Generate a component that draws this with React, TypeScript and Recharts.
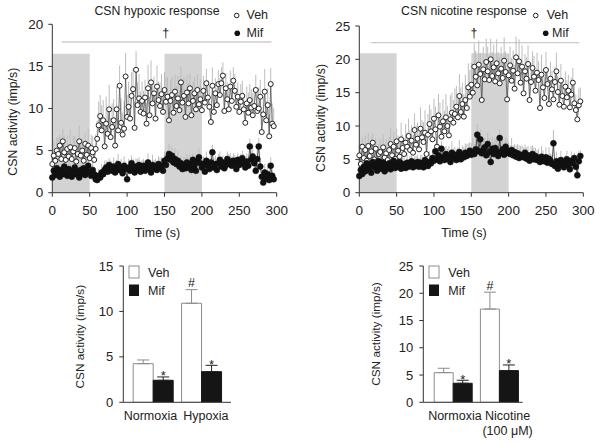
import React from 'react';
import {
  ComposedChart,
  Line,
  XAxis,
  YAxis,
  ErrorBar,
  ReferenceArea,
  ReferenceLine,
  BarChart,
  Bar,
  LabelList,
} from 'recharts';

// sampling interval of the traces (s)
const TIME_STEP = 2;
const timeTicks = [0, 50, 100, 150, 200, 250, 300];

// --- hypoxia traces ---
const hypVeh = [
  3.4, 4.4, 3.8, 5.0, 4.6, 5.6, 4.0, 6.1, 4.8, 3.9,
  5.2, 4.3, 5.4, 4.0, 4.9, 5.3, 3.7, 4.6, 6.1, 4.4,
  5.0, 3.8, 5.8, 4.5, 5.6, 4.1, 5.3, 4.8, 3.9, 5.2,
  6.4, 8.0, 9.1, 7.4, 8.6, 5.5, 8.2, 7.0, 9.9, 6.6,
  7.8, 8.6, 5.6, 9.9, 7.4, 12.7, 8.3, 6.9, 7.6, 13.8,
  9.0, 10.2, 8.8, 11.5, 12.3, 7.7, 14.6, 10.4, 11.2, 9.6,
  10.9, 9.4, 11.3, 8.2, 12.4, 9.2, 13.1, 10.6, 11.8, 8.8,
  12.6, 11.0, 10.3, 11.7, 9.6, 12.2, 10.8, 11.4, 8.6, 10.9,
  11.6, 9.5, 12.0, 10.3, 11.2, 9.8, 13.1, 10.7, 11.5, 9.0,
  11.9, 10.6, 12.4, 9.2, 10.9, 11.8, 9.9, 12.2, 10.5, 11.1,
  9.8, 12.1, 10.7, 13.0, 11.3, 10.2, 8.4, 12.7, 9.6, 11.8,
  10.4, 12.9, 11.6, 13.0, 13.9, 9.7, 12.4, 11.1, 9.9, 12.6,
  10.9, 13.3, 12.1, 10.2, 11.4, 9.6, 10.8, 11.5, 9.9, 8.3,
  10.6, 9.5, 11.0, 10.1, 9.2, 10.3, 12.2, 9.7, 10.0, 11.4,
  7.2, 9.3, 12.0, 8.6, 10.4, 6.7, 12.9, 8.2, 7.9,
];
const hypVehErr = [
  1.4, 1.8, 1.2, 1.6, 2.0, 1.3, 1.7, 1.5, 1.9, 1.2,
  1.6, 1.4, 2.1, 1.3, 1.8, 1.5, 1.7, 1.2, 1.9, 1.6,
  1.5, 1.8, 1.3, 1.7, 2.0, 1.4, 1.6, 1.9, 1.3, 1.7,
  2.2, 2.8, 2.5, 3.0, 2.4, 2.7, 3.2, 2.6, 2.9, 2.3,
  2.8, 2.5, 3.1, 2.7, 3.0, 2.4, 2.9, 2.6, 3.3, 2.8,
  2.6, 3.0, 2.4, 2.8, 2.5, 3.1, 2.2, 2.7, 2.9, 2.4,
  2.3, 2.7, 2.1, 2.5, 2.8, 2.2, 2.6, 2.4, 2.0, 2.7,
  2.5, 2.2, 2.8, 2.4, 2.6, 2.1, 2.9, 2.3, 2.7, 2.5,
  2.2, 2.6, 2.0, 2.4, 2.7, 2.3, 1.9, 2.5, 2.2, 2.6,
  2.1, 2.4, 1.8, 2.6, 2.3, 2.0, 2.5, 1.9, 2.2, 2.4,
  2.0, 1.8, 2.3, 1.7, 2.1, 2.4, 1.9, 2.2, 2.0, 1.8,
  2.1, 1.7, 2.0, 1.9, 1.6, 2.2, 1.8, 2.0, 2.3, 1.9,
  1.8, 1.6, 2.0, 2.2, 1.7, 1.9, 2.1, 1.8, 2.0, 2.3,
  2.0, 2.4, 1.9, 2.2, 2.6, 2.1, 1.8, 2.3, 2.5, 2.0,
  2.4, 2.1, 2.7, 2.3, 2.0, 2.6, 1.9, 2.4, 2.2,
];
const hypMif = [
  1.8, 2.6, 2.1, 2.9, 2.3, 1.9, 2.7, 2.2, 3.1, 2.4,
  2.0, 2.8, 2.3, 1.9, 2.6, 3.0, 2.2, 2.5, 1.8, 2.7,
  2.3, 2.9, 2.1, 2.6, 3.2, 2.4, 2.0, 2.7, 2.2, 1.6,
  1.5, 2.0, 1.8, 2.4, 2.2, 2.7, 3.0, 2.5, 3.3, 2.8,
  2.6, 3.1, 2.4, 2.9, 3.4, 2.7, 3.0, 2.3, 3.2, 2.8,
  1.6, 3.0, 2.6, 3.5, 2.9, 2.4, 3.1, 2.7, 3.3, 2.5,
  2.9, 3.2, 2.6, 3.0, 3.6, 2.8, 2.4, 3.3, 2.9, 3.1,
  2.7, 3.4, 3.0, 3.2, 2.6, 3.8, 3.3, 4.1, 4.6, 3.9,
  4.4, 3.6, 4.0, 3.4, 3.8, 3.1, 3.5, 2.8, 3.3, 2.9,
  3.6, 3.0, 3.4, 2.7, 3.9, 3.2, 2.6, 3.7, 4.2, 3.5,
  3.0, 3.4, 2.5, 3.8, 3.2, 2.8, 3.6, 4.8, 3.0, 3.4,
  2.7, 3.5, 3.9, 3.1, 3.6, 2.9, 3.3, 4.0, 3.4, 3.7,
  3.2, 3.8, 3.5, 2.8, 3.9, 3.3, 3.6, 4.1, 3.4, 3.0,
  3.7, 3.2, 5.5, 3.9, 4.3, 3.5, 2.6, 4.0, 5.5, 3.1,
  1.9, 1.2, 2.4, 1.7, 2.2, 1.5, 3.2, 2.0, 1.6,
];
const hypMifErr = [
  0.8, 1.0, 0.7, 0.9, 1.1, 0.8, 0.6, 1.0, 0.9, 0.7,
  0.9, 0.7, 1.1, 0.8, 1.0, 0.6, 0.9, 0.8, 1.2, 0.7,
  1.0, 0.8, 0.9, 0.7, 1.1, 0.9, 0.8, 1.0, 0.7, 0.6,
  0.7, 0.8, 0.9, 1.0, 0.8, 1.1, 0.9, 1.2, 0.8, 1.0,
  0.9, 1.1, 0.8, 1.0, 1.2, 0.9, 1.0, 0.8, 1.1, 0.9,
  0.7, 1.0, 1.2, 0.9, 1.1, 0.8, 1.0, 1.3, 0.9, 1.1,
  1.0, 0.8, 1.2, 0.9, 1.1, 1.0, 0.8, 1.2, 1.0, 0.9,
  1.1, 0.9, 1.2, 1.0, 0.8, 1.1, 1.3, 1.0, 1.2, 0.9,
  1.1, 1.0, 1.3, 0.9, 1.2, 1.0, 0.8, 1.1, 0.9, 1.2,
  1.0, 0.9, 1.1, 1.3, 0.8, 1.0, 1.2, 0.9, 1.1, 1.0,
  1.2, 0.9, 1.0, 1.1, 0.8, 1.2, 1.0, 0.9, 1.1, 1.0,
  0.9, 1.1, 1.0, 1.2, 0.8, 1.0, 1.1, 0.9, 1.2, 1.0,
  1.1, 0.9, 1.0, 1.2, 0.8, 1.1, 1.0, 0.9, 1.2, 1.0,
  1.0, 1.2, 0.9, 1.1, 1.3, 1.0, 0.8, 1.2, 1.0, 0.9,
  0.9, 0.7, 1.0, 0.8, 0.9, 0.7, 1.0, 0.8, 0.7,
];

// --- nicotine traces ---
const nicVeh = [
  5.6, 4.3, 6.9, 5.2, 6.4, 4.8, 7.0, 5.5, 6.2, 7.5,
  5.0, 6.6, 4.7, 5.8, 6.1, 4.5, 6.8, 5.3, 5.9, 4.9,
  6.4, 7.3, 5.6, 6.9, 5.1, 7.7, 6.3, 5.4, 8.0, 6.7,
  5.8, 7.5, 6.9, 8.5, 6.4, 7.8, 6.0, 9.4, 7.2, 8.1,
  6.5, 9.6, 8.3, 7.6, 9.0, 5.8, 8.7, 10.3, 9.2, 8.0,
  11.1, 9.5, 6.9, 11.6, 9.9, 8.4, 10.7, 9.2, 11.3, 10.0,
  8.6, 11.0, 12.0, 10.5, 11.8, 12.9, 11.3, 14.5, 12.1, 13.3,
  11.4, 13.9, 12.7, 15.8, 14.4, 16.2, 15.0, 18.9, 17.4, 16.1,
  19.2, 17.8, 13.9, 18.5, 17.0, 19.6, 18.2, 16.9, 20.0, 17.5,
  18.8, 16.7, 19.4, 17.9, 16.4, 18.6, 17.2, 19.8, 18.1, 14.0,
  17.6, 19.1, 16.8, 18.3, 15.6, 20.3, 17.9, 19.7, 16.5, 18.9,
  14.9, 18.2, 17.1, 19.3, 13.9, 16.6, 18.7, 17.4, 15.3, 18.0,
  16.9, 12.7, 17.7, 15.8, 14.2, 18.4, 16.3, 13.3, 17.1, 15.5,
  14.0, 16.6, 18.2, 15.1, 13.2, 16.8, 14.5, 12.9, 15.9, 14.3,
  15.3, 12.8, 14.7, 16.5, 13.4, 12.4, 11.0, 13.1, 13.7,
];
const nicVehErr = [
  1.6, 2.0, 1.4, 1.8, 2.2, 1.5, 1.9, 1.7, 2.1, 1.4,
  1.8, 1.6, 2.3, 1.5, 2.0, 1.7, 1.9, 1.4, 2.1, 1.8,
  2.0, 2.4, 1.8, 2.2, 2.6, 1.9, 2.3, 2.1, 2.5, 2.0,
  2.4, 2.8, 2.2, 2.6, 3.0, 2.3, 2.7, 2.5, 2.9, 2.4,
  2.8, 3.2, 2.6, 3.0, 3.4, 2.7, 3.1, 2.9, 3.3, 2.8,
  3.0, 3.4, 2.8, 3.2, 3.6, 2.9, 3.3, 3.1, 3.5, 3.0,
  3.2, 3.6, 3.0, 3.4, 3.8, 3.1, 3.5, 3.3, 3.7, 3.2,
  3.4, 3.8, 3.2, 3.6, 4.0, 3.3, 3.7, 3.5, 3.9, 3.4,
  3.6, 3.2, 3.8, 3.4, 3.0, 3.5, 3.7, 3.3, 3.1, 3.6,
  3.4, 3.0, 3.6, 3.2, 3.8, 3.3, 2.9, 3.5, 3.1, 3.4,
  3.2, 2.8, 3.4, 3.0, 3.6, 3.1, 2.7, 3.3, 2.9, 3.2,
  3.0, 2.6, 3.2, 2.8, 3.4, 2.9, 2.5, 3.1, 2.7, 3.0,
  2.8, 2.4, 3.0, 2.6, 3.2, 2.7, 2.3, 2.9, 2.5, 2.8,
  2.6, 2.2, 2.8, 2.4, 3.0, 2.5, 2.1, 2.7, 2.3, 2.6,
  2.4, 2.0, 2.6, 2.2, 2.8, 2.3, 1.9, 2.5, 2.1,
];
const nicMif = [
  2.5, 3.4, 2.8, 3.9, 3.2, 4.4, 3.5, 4.1, 3.0, 4.6,
  3.8, 4.3, 3.3, 4.7, 3.9, 3.6, 4.5, 3.2, 4.1, 3.7,
  4.4, 3.5, 4.0, 4.8, 3.7, 4.2, 3.9, 4.6, 3.6, 4.3,
  4.1, 3.7, 4.5, 3.9, 4.2, 4.7, 3.8, 4.4, 4.0, 4.6,
  3.9, 4.5, 4.2, 3.8, 4.9, 4.3, 4.0, 4.6, 4.4, 5.2,
  4.8, 6.2, 5.0, 5.6, 4.7, 6.6, 5.3, 4.9, 5.8, 5.1,
  5.5, 4.6, 6.0, 5.2, 5.7, 4.9, 5.4, 6.1, 5.0, 5.6,
  5.3, 6.0, 5.5, 5.9, 6.3, 5.7, 6.1, 5.8, 6.5, 8.7,
  6.2, 8.0, 5.9, 6.4, 6.8, 5.6, 7.3, 6.1, 4.6, 6.6,
  5.8, 6.7, 6.2, 5.5, 8.2, 6.0, 6.5, 5.7, 6.9, 6.3,
  6.0, 5.8, 6.4, 5.6, 6.1, 5.4, 5.9, 5.2, 5.7, 5.5,
  5.3, 6.0, 5.1, 5.6, 4.8, 5.4, 5.8, 5.0, 5.5, 4.9,
  5.2, 4.6, 5.4, 5.0, 4.7, 5.3, 4.5, 5.1, 4.8, 4.3,
  7.4, 4.0, 4.7, 3.6, 4.4, 4.9, 4.1, 3.8, 4.6, 5.0,
  4.2, 3.5, 4.8, 4.4, 5.2, 3.9, 2.6, 4.7, 5.5,
];
const nicMifErr = [
  0.9, 1.2, 0.8, 1.1, 1.4, 1.0, 1.3, 0.9, 1.2, 1.0,
  1.1, 0.9, 1.3, 1.0, 1.2, 0.8, 1.1, 1.4, 1.0, 1.2,
  1.0, 1.3, 1.1, 0.9, 1.2, 1.4, 1.0, 1.1, 1.3, 0.9,
  1.2, 1.0, 1.4, 1.1, 1.3, 0.9, 1.2, 1.0, 1.5, 1.1,
  1.3, 1.1, 1.5, 1.2, 1.0, 1.4, 1.2, 1.6, 1.1, 1.3,
  1.4, 1.2, 1.6, 1.3, 1.5, 1.1, 1.4, 1.7, 1.2, 1.5,
  1.5, 1.3, 1.7, 1.4, 1.2, 1.6, 1.4, 1.8, 1.3, 1.5,
  1.6, 1.4, 1.8, 1.5, 1.3, 1.7, 2.2, 1.5, 1.9, 1.6,
  1.8, 1.5, 2.0, 1.6, 1.4, 1.9, 1.7, 2.1, 1.5, 1.8,
  1.7, 1.4, 1.9, 1.6, 1.3, 1.8, 1.5, 2.0, 1.4, 1.7,
  1.6, 1.3, 1.8, 1.5, 1.2, 1.7, 1.4, 1.9, 1.3, 1.6,
  1.5, 1.2, 1.7, 1.4, 1.1, 1.6, 1.3, 1.8, 1.2, 1.5,
  1.4, 1.1, 1.6, 1.3, 1.0, 1.5, 1.2, 1.7, 1.1, 1.4,
  2.0, 1.1, 1.5, 1.2, 0.9, 1.4, 1.1, 1.6, 1.0, 1.3,
  1.2, 1.0, 1.4, 1.1, 0.8, 1.3, 1.0, 1.5, 0.9,
];

// --- summary bars ---
const hypCategories = ['Normoxia', 'Hypoxia'];
const hypVehMean = [4.25, 10.9];
const hypVehSem = [0.41, 1.5];
const hypMifMean = [2.42, 3.37];
const hypMifSem = [0.37, 0.7];
const hypVehSig = ['', '#'];
const hypMifSig = ['*', '*'];

const nicCategories = ['Normoxia', 'Nicotine\n(100 \u03bcM)'];
const nicVehMean = [5.44, 17.1];
const nicVehSem = [0.8, 3.1];
const nicMifMean = [3.49, 5.81];
const nicMifSem = [0.55, 1.04];
const nicVehSig = ['', '#'];
const nicMifSig = ['*', '*'];

const FONT = '"Liberation Sans", Arial, Helvetica, sans-serif';
const AXIS = '#333';
const INK = '#222';

const buildTrace = (veh: number[], vehErr: number[], mif: number[], mifErr: number[]) =>
  veh.map((v, i) => ({
    t: i * TIME_STEP,
    veh: v,
    vehErr: [0, vehErr[i]],
    mif: mif[i],
    mifErr: [0, mifErr[i]],
  }));

const buildBars = (cats: string[], vm: number[], ve: number[], mm: number[], me: number[], vs: string[], ms: string[]) =>
  cats.map((name, i) => ({
    name,
    veh: vm[i],
    vehErr: [0, ve[i]],
    mif: mm[i],
    mifErr: [0, me[i]],
    vehSig: vs[i],
    mifSig: ms[i],
  }));

const hypTrace = buildTrace(hypVeh, hypVehErr, hypMif, hypMifErr);
const nicTrace = buildTrace(nicVeh, nicVehErr, nicMif, nicMifErr);
const hypBars = buildBars(hypCategories, hypVehMean, hypVehSem, hypMifMean, hypMifSem, hypVehSig, hypMifSig);
const nicBars = buildBars(nicCategories, nicVehMean, nicVehSem, nicMifMean, nicMifSem, nicVehSig, nicMifSig);

type TraceProps = {
  data: any[];
  width: number;
  yMax: number;
  yTicks: number[];
  shadeTop: number;
  lineY: number;
  lineFrom: number;
  lineTo: number;
  margin: { top: number; right: number; bottom: number; left: number };
  yWidth: number;
};

const TracePanel = ({ data, width, yMax, yTicks, shadeTop, lineY, lineFrom, lineTo, margin, yWidth }: TraceProps) => (
  <ComposedChart width={width} height={240} data={data} margin={margin}>
    <ReferenceArea x1={0} x2={50} y1={0} y2={shadeTop} fill="#d3d3d3" fillOpacity={1} stroke="none" />
    <ReferenceArea x1={150} x2={200} y1={0} y2={shadeTop} fill="#d3d3d3" fillOpacity={1} stroke="none" />
    <ReferenceLine
      segment={[{ x: lineFrom, y: lineY }, { x: lineTo, y: lineY }]}
      stroke="#cccccc"
      strokeWidth={1.3}
    />
    <XAxis
      type="number"
      dataKey="t"
      domain={[0, 300]}
      ticks={timeTicks}
      stroke={AXIS}
      tickSize={4}
      tickMargin={9}
      height={30}
      tick={{ fontSize: 13.5, fill: INK }}
    />
    <YAxis
      type="number"
      domain={[0, yMax]}
      ticks={yTicks}
      allowDataOverflow
      stroke={AXIS}
      tickSize={4}
      tickMargin={5}
      width={yWidth}
      tick={{ fontSize: 13.5, fill: INK }}
    />
    <Line dataKey="veh" stroke="none" dot={false} activeDot={false} isAnimationActive={false}>
      <ErrorBar dataKey="vehErr" width={0} stroke="#bdbdbd" strokeWidth={1} direction="y" />
    </Line>
    <Line dataKey="mif" stroke="none" dot={false} activeDot={false} isAnimationActive={false}>
      <ErrorBar dataKey="mifErr" width={0} stroke="#bdbdbd" strokeWidth={1} direction="y" />
    </Line>
    <Line
      dataKey="veh"
      stroke="#444"
      strokeWidth={0.7}
      dot={{ r: 2.5, fill: '#fff', stroke: INK, strokeWidth: 1 }}
      activeDot={false}
      isAnimationActive={false}
    />
    <Line
      dataKey="mif"
      stroke="#111"
      strokeWidth={0.7}
      dot={{ r: 3, fill: '#111', stroke: '#111', strokeWidth: 0.5 }}
      activeDot={false}
      isAnimationActive={false}
    />
  </ComposedChart>
);

const CategoryTick = ({ x, y, payload, shift }: any) => {
  const lines = String(payload.value).split('\n');
  return (
    <g>
      {lines.map((ln, i) => (
        <text key={i} x={x + (shift[payload.index] || 0)} y={y + 17.7 + i * 15} textAnchor="middle" fontSize={12.5} fill={INK}>
          {ln}
        </text>
      ))}
    </g>
  );
};

const sigMark = (means: number[], errs: number[]) => (p: any) => {
  const vb = p.viewBox || p;
  const { x, y, width, height } = vb;
  const i = p.index;
  if (!p.value) return null;
  const errPx = (height / means[i]) * errs[i];
  const top = y - errPx;
  const base = p.value === '*' ? top + 3.5 : top - 2.5;
  return (
    <text x={x + width / 2} y={base} textAnchor="middle" fontSize={p.value === '*' ? 13 : 12.5} fill={INK}>
      {p.value}
    </text>
  );
};

type BarProps = {
  data: any[];
  width: number;
  yMax: number;
  yTicks: number[];
  right: number;
  padding: { left: number; right: number };
  shift: number[];
  vehMean: number[];
  vehSem: number[];
  mifMean: number[];
  mifSem: number[];
};

const SummaryBars = ({ data, width, yMax, yTicks, right, padding, shift, vehMean, vehSem, mifMean, mifSem }: BarProps) => (
  <BarChart
    width={width}
    height={203}
    data={data}
    margin={{ top: 26, right, bottom: 10.7, left: 0 }}
    barGap={0}
    barCategoryGap={3.9}
  >
    <XAxis
      dataKey="name"
      padding={padding}
      stroke={AXIS}
      tickLine={false}
      tickSize={0}
      tickMargin={0}
      height={30}
      interval={0}
      tick={(props: any) => <CategoryTick {...props} shift={shift} />}
    />
    <YAxis
      type="number"
      domain={[0, yMax]}
      ticks={yTicks}
      allowDataOverflow
      stroke={AXIS}
      tickSize={4}
      tickMargin={6}
      width={123.3}
      tick={{ fontSize: 13, fill: INK }}
    />
    <Bar dataKey="veh" fill="#fff" stroke="#8c8c8c" strokeWidth={1} isAnimationActive={false}>
      <ErrorBar dataKey="vehErr" width={6} stroke="#8c8c8c" strokeWidth={1} direction="y" />
      <LabelList dataKey="vehSig" content={sigMark(vehMean, vehSem)} />
    </Bar>
    <Bar dataKey="mif" fill="#151515" stroke="#151515" strokeWidth={1} isAnimationActive={false}>
      <ErrorBar dataKey="mifErr" width={6} stroke="#222" strokeWidth={1} direction="y" />
      <LabelList dataKey="mifSig" content={sigMark(mifMean, mifSem)} />
    </Bar>
  </BarChart>
);

const Overlay = () => (
  <svg
    width={601}
    height={443}
    style={{ position: 'absolute', left: 0, top: 0, pointerEvents: 'none' }}
    fontFamily={FONT}
    fill={INK}
  >
    {/* hypoxia trace */}
    <text x={157} y={15} textAnchor="middle" fontSize={12.3}>CSN hypoxic response</text>
    <circle cx={236.7} cy={15.5} r={2.3} fill="#fff" stroke={INK} strokeWidth={1} />
    <text x={246.5} y={19} fontSize={12.5}>Veh</text>
    <circle cx={237.3} cy={33.2} r={2.8} fill="#111" />
    <text x={246.5} y={36.7} fontSize={12.5}>Mif</text>
    <text x={165.7} y={37} textAnchor="middle" fontSize={12.5}>{'\u2020'}</text>
    <text transform="translate(17,121.7) rotate(-90)" textAnchor="middle" fontSize={12.3}>CSN activity (imp/s)</text>
    <text x={157.5} y={236.5} textAnchor="middle" fontSize={12.5}>Time (s)</text>

    {/* nicotine trace */}
    <text x={464} y={15} textAnchor="middle" fontSize={12.3}>CSN nicotine response</text>
    <circle cx={535.7} cy={15.5} r={2.3} fill="#fff" stroke={INK} strokeWidth={1} />
    <text x={546.7} y={19} fontSize={12.5}>Veh</text>
    <circle cx={545.7} cy={33.2} r={2.8} fill="#111" />
    <text x={552} y={36.7} fontSize={12.5}>Mif</text>
    <text x={474} y={37} textAnchor="middle" fontSize={12.5}>{'\u2020'}</text>
    <text transform="translate(324.7,118) rotate(-90)" textAnchor="middle" fontSize={12.3}>CSN activity (imp/s)</text>
    <text x={464} y={236.5} textAnchor="middle" fontSize={12.5}>Time (s)</text>

    {/* hypoxia bars */}
    <rect x={129} y={266} width={10} height={12} fill="#fff" stroke="#8c8c8c" />
    <text x={148} y={276.5} fontSize={12.5}>Veh</text>
    <rect x={129} y={284.5} width={10} height={11.5} fill="#151515" />
    <text x={148} y={295} fontSize={12.5}>Mif</text>
    <text transform="translate(84,336.7) rotate(-90)" textAnchor="middle" fontSize={11.8}>CSN activity (imp/s)</text>

    {/* nicotine bars */}
    <rect x={429} y={266} width={10} height={12} fill="#fff" stroke="#8c8c8c" />
    <text x={448.3} y={276.5} fontSize={12.5}>Veh</text>
    <rect x={429} y={284.5} width={10} height={11.5} fill="#151515" />
    <text x={448.3} y={295} fontSize={12.5}>Mif</text>
    <text transform="translate(380,334) rotate(-90)" textAnchor="middle" fontSize={11.8}>CSN activity (imp/s)</text>
  </svg>
);

export default function App() {
  return (
    <div
      style={{
        position: 'absolute',
        left: 0,
        top: 0,
        width: 601,
        height: 443,
        background: '#fff',
        fontFamily: FONT,
        overflow: 'hidden',
      }}
    >
      <div style={{ position: 'absolute', left: 0, top: 0 }}>
        <TracePanel
          data={hypTrace}
          width={300}
          yMax={20}
          yTicks={[0, 5, 10, 15, 20]}
          shadeTop={16.5}
          lineY={17.9}
          lineFrom={12.6}
          lineTo={293}
          margin={{ top: 24.3, right: 23.3, bottom: 17.3, left: 0 }}
          yWidth={52.3}
        />
      </div>
      <div style={{ position: 'absolute', left: 300, top: 0 }}>
        <TracePanel
          data={nicTrace}
          width={301}
          yMax={25}
          yTicks={[0, 5, 10, 15, 20, 25]}
          shadeTop={20.9}
          lineY={22.5}
          lineFrom={15.3}
          lineTo={294.6}
          margin={{ top: 26, right: 17.7, bottom: 17.3, left: 0 }}
          yWidth={59.3}
        />
      </div>
      <div style={{ position: 'absolute', left: 0, top: 240 }}>
        <SummaryBars
          data={hypBars}
          width={300}
          yMax={15}
          yTicks={[0, 5, 10, 15]}
          right={69}
          padding={{ left: 6, right: 5 }}
          shift={[-3, 4]}
          vehMean={hypVehMean}
          vehSem={hypVehSem}
          mifMean={hypMifMean}
          mifSem={hypMifSem}
        />
      </div>
      <div style={{ position: 'absolute', left: 300, top: 240 }}>
        <SummaryBars
          data={nicBars}
          width={301}
          yMax={25}
          yTicks={[0, 5, 10, 15, 20, 25]}
          right={78.3}
          padding={{ left: 7, right: 0 }}
          shift={[1.5, 8]}
          vehMean={nicVehMean}
          vehSem={nicVehSem}
          mifMean={nicMifMean}
          mifSem={nicMifSem}
        />
      </div>
      <Overlay />
    </div>
  );
}
